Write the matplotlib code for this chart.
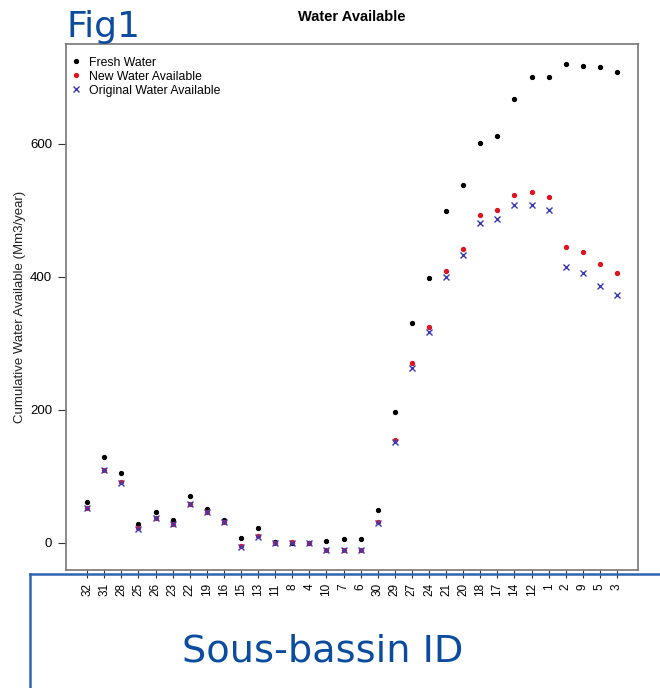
import numpy as np
import matplotlib.pyplot as plt
from matplotlib.lines import Line2D

plt.rcParams['font.family'] = ['Liberation Sans', 'DejaVu Sans']

basins = ['32', '31', '28', '25', '26', '23', '22', '19', '16', '15', '13', '11', '8', '4', '10', '7',
          '6', '30', '29', '27', '24', '21', '20', '18', '17', '14', '12', '1', '2', '9', '5', '3']

fresh = [62, 129, 105, 28, 46, 35, 70, 51, 35, 8, 23, 2, 0, 0, 3.5, 5.5,
         5.5, 50, 196, 331, 398, 499, 538, 601, 612, 667, 700, 700, 719, 717, 715, 708]
new_avail = [53, 110, 91, 22, 38, 29, 59, 47, 32, -5, 10, 0, 1, 0, -10, -10,
             -10, 31, 155, 270, 324, 409, 442, 493, 500, 523, 527, 520, 444, 437, 419, 406]
original = [52, 109, 90, 21, 37, 28, 58, 46, 31, -6.5, 8.5, -0.5, 0.5, 0, -11, -10.5,
            -10.5, 30.5, 151, 263, 317, 399, 432, 481, 487, 508, 508, 500, 414, 406, 386, 373]

blue = '#0b4c9e'

fig = plt.figure(figsize=(6.6, 6.88), dpi=100)
ax = fig.add_axes([0.1, 0.1715, 0.867, 0.765])

x = np.arange(len(basins))
ax.plot(x, fresh, 'o', color='black', markersize=2.8, label='Fresh Water')
ax.plot(x, new_avail, 'o', color='#e0141e', markersize=2.8, label='New Water Available')
ax.plot(x, original, 'x', color='#3a3ab8', markersize=5, markeredgewidth=1.0,
        label='Original Water Available')

ax.set_xlim(-1.24, 32.24)
ax.set_ylim(-40.6, 750)
ax.set_xticks(x)
ax.set_xticklabels(basins, rotation=90, fontsize=8.5)
ax.set_yticks([0, 200, 400, 600])
ax.tick_params(axis='y', labelsize=9.5, length=6, pad=4, color='#333333')
ax.tick_params(axis='x', length=6, pad=3.5, color='#333333')
for s in ax.spines.values():
    s.set_color('#777777')
    s.set_linewidth(1.2)

ax.set_ylabel('Cumulative Water Available (Mm3/year)', fontsize=9.5, labelpad=3,
              color='#222222')
ax.set_title('Water Available', fontsize=10.5, fontweight='bold', pad=16)

ax.legend(loc='upper left', bbox_to_anchor=(0.0, 0.9825), frameon=False, fontsize=8.8,
          handletextpad=0.55, borderaxespad=0, labelspacing=0.17, handlelength=1.0,
          borderpad=0.3)

# overlay annotations
fig.text(0.1, 0.946, 'Fig1', fontsize=26, color=blue, family='DejaVu Sans')
fig.text(0.275, 0.039, 'Sous-bassin ID', fontsize=27.5, color=blue, family='DejaVu Sans')
fig.add_artist(Line2D([0.045, 1.0], [0.1657, 0.1657], color='#2e64b0', linewidth=1.8))
fig.add_artist(Line2D([0.045, 0.045], [0.0, 0.1657], color='#2e64b0', linewidth=1.8))

fig.savefig('out.png', dpi=100)
